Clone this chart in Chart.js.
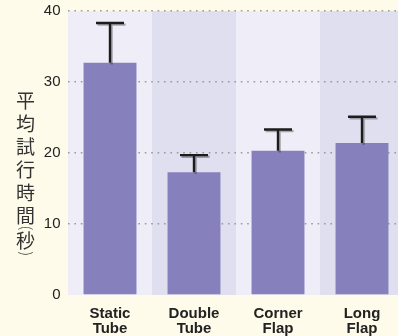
<!DOCTYPE html>
<html>
<head>
<meta charset="utf-8">
<script src="https://cdn.jsdelivr.net/npm/chart.js@4/dist/chart.umd.min.js"></script>
<style>
  html, body { margin: 0; padding: 0; background: #fffbea; overflow: hidden; }
  #wrap { width: 404px; height: 336px; position: relative; }
</style>
</head>
<body>
<div id="wrap"><canvas id="c"></canvas></div>
<script>
// Mean trial time per device, with the upper end of each error bar
const categories = [["Static", "Tube"], ["Double", "Tube"], ["Corner", "Flap"], ["Long", "Flap"]];
const meanTimes = [32.7, 17.3, 20.3, 21.4];
const errorTops = [38.3, 19.7, 23.3, 25.1];
const yTicks = [0, 10, 20, 30, 40];
const yTitle = ["平", "均", "試", "行", "時", "間", "(", "秒", ")"];

// alternating column shading behind the bars
const bandPlugin = {
  id: "bands",
  beforeDraw(chart) {
    const { ctx, chartArea, scales } = chart;
    const x = scales.x;
    ctx.save();
    categories.forEach((_, i) => {
      const c = x.getPixelForValue(i);
      const half = (x.getPixelForValue(1) - x.getPixelForValue(0)) / 2;
      ctx.fillStyle = i % 2 === 0 ? "#efeef8" : "#e0dfef";
      ctx.fillRect(c - half, chartArea.top, half * 2, chartArea.bottom - chartArea.top);
    });
    ctx.restore();
  }
};

// upward error whiskers with a soft drop shadow
const errorPlugin = {
  id: "errors",
  afterDatasetsDraw(chart) {
    const { ctx, scales } = chart;
    ctx.save();
    ctx.strokeStyle = "#1c1c1c";
    ctx.lineWidth = 2.4;
    ctx.shadowColor = "rgba(0,0,0,0.3)";
    ctx.shadowOffsetX = 1.6;
    ctx.shadowOffsetY = 1.6;
    ctx.shadowBlur = 0.5;
    errorTops.forEach((top, i) => {
      const cx = scales.x.getPixelForValue(i);
      const y0 = scales.y.getPixelForValue(meanTimes[i]);
      const y1 = scales.y.getPixelForValue(top);
      ctx.beginPath();
      ctx.moveTo(cx, y0);
      ctx.lineTo(cx, y1);
      ctx.moveTo(cx - 14, y1);
      ctx.lineTo(cx + 14, y1);
      ctx.stroke();
    });
    ctx.restore();
  }
};

// vertical, upright axis title; brackets are turned a quarter turn
const titlePlugin = {
  id: "vtitle",
  afterDraw(chart) {
    const { ctx } = chart;
    const isParen = ch => ch === "(" || ch === ")";
    ctx.save();
    ctx.fillStyle = "#333";
    let y = 101;
    const x = 25.5;
    yTitle.forEach((ch, i) => {
      if (isParen(ch)) {
        ctx.save();
        ctx.font = "300 15px 'Noto Sans CJK JP'";
        ctx.textAlign = "left";
        ctx.textBaseline = "alphabetic";
        const m = ctx.measureText(ch);
        const gx = (m.actualBoundingBoxRight - m.actualBoundingBoxLeft) / 2;
        const gy = (m.actualBoundingBoxDescent - m.actualBoundingBoxAscent) / 2;
        ctx.translate(x, y);
        ctx.rotate(Math.PI / 2);
        ctx.fillText(ch, -gx, -gy);
        ctx.restore();
      } else {
        ctx.font = "400 19px 'Noto Sans CJK JP'";
        ctx.textAlign = "center";
        ctx.textBaseline = "middle";
        ctx.fillText(ch, x, y);
      }
      const next = yTitle[i + 1];
      if (next !== undefined) y += (isParen(ch) || isParen(next)) ? 12.5 : 23;
    });
    ctx.restore();
  }
};

new Chart(document.getElementById("c"), {
  type: "bar",
  data: {
    labels: categories,
    datasets: [{
      data: meanTimes,
      backgroundColor: "#8680bc",
      borderWidth: 0,
      barPercentage: 0.63,
      categoryPercentage: 1
    }]
  },
  options: {
    responsive: true,
    maintainAspectRatio: false,
    devicePixelRatio: 1,
    animation: false,
    layout: { padding: { top: 11, left: 0, right: 0, bottom: 0 } },
    plugins: { legend: { display: false }, tooltip: { enabled: false } },
    scales: {
      x: {
        grid: { display: false },
        border: { display: false },
        ticks: {
          color: "#222",
          padding: 3,
          font: { family: "'Liberation Sans', Arial, sans-serif", size: 15, weight: "bold", lineHeight: 1.0 },
          maxRotation: 0
        },
        afterFit(s) { s.height = 41; }
      },
      y: {
        min: 0,
        max: 40,
        afterBuildTicks(s) { s.ticks = yTicks.map(v => ({ value: v })); },
        grid: {
          drawTicks: false,
          color: ctx => ctx.tick && ctx.tick.value === 0 ? "rgba(0,0,0,0)" : "#9a9a9a",
          lineWidth: 1.6
        },
        border: { display: false, dash: [1.6, 4.8] },
        ticks: {
          color: "#222",
          padding: 7.5,
          font: { family: "'Liberation Sans', Arial, sans-serif", size: 15 }
        },
        afterFit(s) {
          s.width = 68;
          s.paddingTop = 0;
          s.paddingBottom = 0;
        }
      }
    }
  },
  plugins: [bandPlugin, errorPlugin, titlePlugin]
});
</script>
</body>
</html>
